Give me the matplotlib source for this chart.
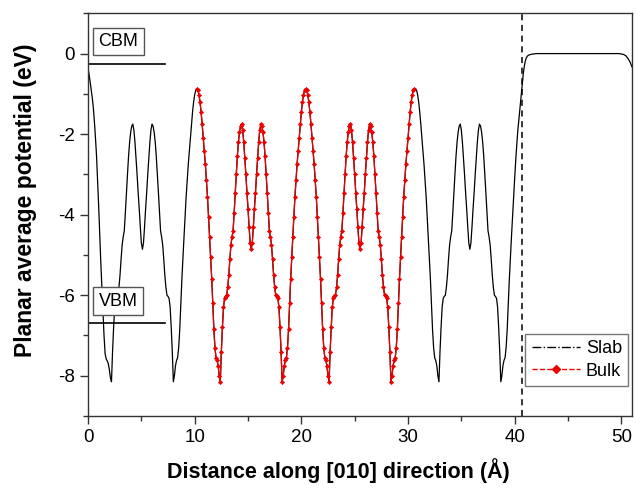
import numpy as np
import matplotlib
matplotlib.use("Agg")
import matplotlib.pyplot as plt
from matplotlib.lines import Line2D

plt.rcParams['font.family'] = ['Liberation Sans', 'DejaVu Sans']
plt.rcParams['axes.unicode_minus'] = False

# --- data (x in Angstrom, y in eV) ---
# slab, left part: x = 0.0 .. 10.1 step 0.1
slab_left_x = np.round(np.arange(0.0, 10.15, 0.1), 2)
slab_left_y = [
    -0.37, -0.52, -0.70, -0.90, -1.10, -1.35, -1.70, -2.10, -2.55, -3.15,
    -3.80, -4.50, -5.20, -5.80, -6.40, -7.00, -7.45, -7.58, -7.63, -7.70,
    -7.85, -8.05, -8.15, -7.40, -6.80, -6.30, -6.08, -6.03, -6.00, -5.80,
    -5.50, -5.10, -4.75, -4.55, -4.40, -3.95, -3.45, -3.00, -2.55, -2.20,
    -1.95, -1.80, -1.75, -1.90, -2.20, -2.60, -3.00, -3.45, -3.85, -4.30,
    -4.70, -4.86, -4.70, -4.30, -3.85, -3.45, -3.00, -2.60, -2.20, -1.90,
    -1.75, -1.80, -1.95, -2.20, -2.55, -3.00, -3.45, -3.95, -4.40, -4.55,
    -4.75, -5.10, -5.50, -5.80, -6.00, -6.03, -6.08, -6.30, -6.80, -7.40,
    -8.15, -8.00, -7.75, -7.62, -7.55, -7.30, -6.85, -6.20, -5.60, -5.05,
    -4.55, -4.05, -3.55, -3.15, -2.75, -2.42, -2.10, -1.75, -1.45, -1.20,
    -1.02, -0.91,
]

# bulk: x = 10.2 .. 30.6 step 0.1
bulk_x = np.round(np.arange(10.2, 30.65, 0.1), 2)
bulk_y = [
    -0.87, -0.91, -1.02, -1.20, -1.45, -1.75, -2.10, -2.42, -2.75, -3.15,
    -3.55, -4.05, -4.55, -5.05, -5.60, -6.20, -6.85, -7.30, -7.55, -7.62,
    -7.75, -8.00, -8.15, -7.40, -6.80, -6.30, -6.08, -6.03, -6.00, -5.80,
    -5.50, -5.10, -4.75, -4.55, -4.40, -3.95, -3.45, -3.00, -2.55, -2.20,
    -1.95, -1.80, -1.75, -1.90, -2.20, -2.60, -3.00, -3.45, -3.85, -4.30,
    -4.70, -4.86, -4.70, -4.30, -3.85, -3.45, -3.00, -2.60, -2.20, -1.90,
    -1.75, -1.80, -1.95, -2.20, -2.55, -3.00, -3.45, -3.95, -4.40, -4.55,
    -4.75, -5.10, -5.50, -5.80, -6.00, -6.03, -6.08, -6.30, -6.80, -7.40,
    -8.15, -8.00, -7.75, -7.62, -7.55, -7.30, -6.85, -6.20, -5.60, -5.05,
    -4.55, -4.05, -3.55, -3.15, -2.75, -2.42, -2.10, -1.75, -1.45, -1.20,
    -1.02, -0.91,
    -0.87, -0.91, -1.02, -1.20, -1.45, -1.75, -2.10, -2.42, -2.75, -3.15,
    -3.55, -4.05, -4.55, -5.05, -5.60, -6.20, -6.85, -7.30, -7.55, -7.62,
    -7.75, -8.00, -8.15, -7.40, -6.80, -6.30, -6.08, -6.03, -6.00, -5.80,
    -5.50, -5.10, -4.75, -4.55, -4.40, -3.95, -3.45, -3.00, -2.55, -2.20,
    -1.95, -1.80, -1.75, -1.90, -2.20, -2.60, -3.00, -3.45, -3.85, -4.30,
    -4.70, -4.86, -4.70, -4.30, -3.85, -3.45, -3.00, -2.60, -2.20, -1.90,
    -1.75, -1.80, -1.95, -2.20, -2.55, -3.00, -3.45, -3.95, -4.40, -4.55,
    -4.75, -5.10, -5.50, -5.80, -6.00, -6.03, -6.08, -6.30, -6.80, -7.40,
    -8.15, -8.00, -7.75, -7.62, -7.55, -7.30, -6.85, -6.20, -5.60, -5.05,
    -4.55, -4.05, -3.55, -3.15, -2.75, -2.42, -2.10, -1.75, -1.45, -1.20,
    -1.02, -0.91,
    -0.87,
]

# slab, right part: x = 30.7 .. 41.0 step 0.1
slab_right_x = np.round(np.arange(30.7, 41.05, 0.1), 2)
slab_right_y = [
    -0.87, -0.91, -1.02, -1.20, -1.45, -1.75, -2.10, -2.42, -2.75, -3.15,
    -3.55, -4.05, -4.55, -5.05, -5.60, -6.20, -6.85, -7.30, -7.55, -7.62,
    -7.75, -8.00, -8.15, -7.40, -6.80, -6.30, -6.08, -6.03, -6.00, -5.80,
    -5.50, -5.10, -4.75, -4.55, -4.40, -3.95, -3.45, -3.00, -2.55, -2.20,
    -1.95, -1.80, -1.75, -1.90, -2.20, -2.60, -3.00, -3.45, -3.85, -4.30,
    -4.70, -4.86, -4.70, -4.30, -3.85, -3.45, -3.00, -2.60, -2.20, -1.90,
    -1.75, -1.80, -1.95, -2.20, -2.55, -3.00, -3.45, -3.95, -4.40, -4.55,
    -4.75, -5.10, -5.50, -5.80, -6.00, -6.03, -6.08, -6.30, -6.80, -7.40,
    -8.15, -8.00, -7.75, -7.62, -7.55, -7.30, -6.85, -6.20, -5.60, -5.05,
    -4.55, -4.05, -3.55, -3.10, -2.65, -2.25, -1.90, -1.62, -1.35, -1.08,
    -0.80, -0.52, -0.32, -0.18,
]

# vacuum region
vacuum_x = [41.1, 41.2, 41.3, 41.5, 42.0, 49.8, 50.0, 50.2, 50.4, 50.6, 50.8, 51.0]
vacuum_y = [-0.10, -0.06, -0.04, -0.02, 0.0, 0.0, -0.01, -0.02, -0.05, -0.11, -0.20, -0.33]

cbm_level = -0.25
vbm_level = -6.70
level_x = [0.0, 7.25]
surface_x = 40.65

slab_x = np.concatenate([slab_left_x, bulk_x, slab_right_x, vacuum_x])
slab_y = np.concatenate([slab_left_y, bulk_y, slab_right_y, vacuum_y])

fig = plt.figure(figsize=(6.36, 4.88), dpi=100)
ax = fig.add_subplot(1, 1, 1)
fig.subplots_adjust(left=0.1384, right=0.9937, top=0.9727, bottom=0.1475)

frame_col = "#333333"
ax.plot(slab_x, slab_y, color="black", lw=0.9, zorder=2)
ax.plot(bulk_x, bulk_y, color="#ee0000", lw=0.9, marker="D", markersize=2.2,
        markeredgewidth=0.4, zorder=3)

ax.plot(level_x, [cbm_level, cbm_level], color="black", lw=1.2, zorder=2)
ax.plot(level_x, [vbm_level, vbm_level], color="black", lw=1.2, zorder=2)
ax.axvline(surface_x, color="black", lw=1.1, ls=(0, (4, 3)), zorder=2)

box = dict(boxstyle="square,pad=0.3", fc="white", ec="#555555", lw=1.0)
ax.text(2.84, 0.30, "CBM", fontsize=13, ha="center", va="center", bbox=box, zorder=5)
ax.text(2.84, -6.15, "VBM", fontsize=13, ha="center", va="center", bbox=box, zorder=5)

ax.set_xlim(0, 51)
ax.set_ylim(-9, 1)
ax.set_xticks([0, 10, 20, 30, 40, 50])
ax.set_xticks([5, 15, 25, 35, 45], minor=True)
ax.set_yticks([0, -2, -4, -6, -8])
ax.set_yticks([1, -1, -3, -5, -7, -9], minor=True)
ax.tick_params(which="major", direction="out", length=6, width=1.0,
               color=frame_col, labelsize=13.5, labelcolor="black")
ax.tick_params(which="minor", direction="out", length=3.5, width=1.0, color=frame_col)
for s in ax.spines.values():
    s.set_color(frame_col)
    s.set_linewidth(1.0)

ax.set_xlabel("Distance along [010] direction (Å)", fontsize=15.5, fontweight="bold")
ax.set_ylabel("Planar average potential (eV)", fontsize=16.5, fontweight="bold")
ax.xaxis.set_label_coords(0.461, -0.105)
ax.yaxis.set_label_coords(-0.094, 0.536)

handles = [
    Line2D([0], [0], color="black", lw=1.0, ls="-."),
    Line2D([0], [0], color="#ee0000", lw=1.0, ls="--", marker="D", markersize=4),
]
leg = ax.legend(handles, ["Slab", "Bulk"], loc="lower right", bbox_to_anchor=(0.993, 0.0745),
                borderaxespad=0, fontsize=13, frameon=True, fancybox=False,
                handlelength=2.7, handletextpad=0.3, borderpad=0.35, labelspacing=0.3,
                numpoints=1)
leg.get_frame().set_edgecolor("#555555")
leg.get_frame().set_linewidth(1.0)

fig.savefig("out.png", dpi=100)
